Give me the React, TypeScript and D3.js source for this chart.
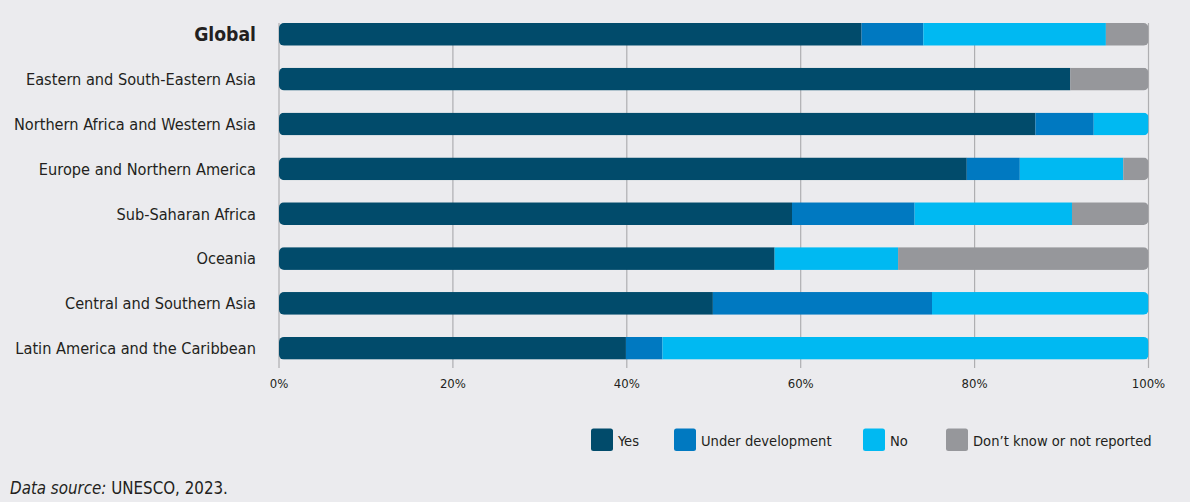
import React from "react";
import * as d3 from "d3";

const categories = [
  "Global",
  "Eastern and South-Eastern Asia",
  "Northern Africa and Western Asia",
  "Europe and Northern America",
  "Sub-Saharan Africa",
  "Oceania",
  "Central and Southern Asia",
  "Latin America and the Caribbean",
];
const seriesNames = ["Yes", "Under development", "No", "Don\u2019t know or not reported"];
const yesValues = [67.0, 91.0, 87.0, 79.1, 59.0, 57.0, 49.9, 39.9];
const underDevValues = [7.1, 0, 6.7, 6.1, 14.1, 0, 25.2, 4.2];
const noValues = [21.0, 0, 6.3, 11.9, 18.1, 14.2, 24.9, 55.9];
const dontKnowValues = [4.9, 9.0, 0, 2.9, 8.8, 28.8, 0, 0];
const tickValues = [0, 20, 40, 60, 80, 100];
const colors = ["#014b6b", "#0079c1", "#00b9f2", "#96979b"];

const FONT = "'Liberation Sans Narrow', 'DejaVu Sans Condensed', 'Roboto Condensed', sans-serif";
const W = 1190;
const H = 502;

export default function App() {
  const x = d3.scaleLinear().domain([0, 100]).range([279, 1148.5]);
  const bh = 22.7;
  const rowY = (i: number) => 34.3 + i * 44.85;
  const series = [yesValues, underDevValues, noValues, dontKnowValues];
  const rows = categories.map((c, i) => {
    let acc = 0;
    return series.map((s, k) => {
      const start = acc;
      acc += s[i];
      return { k, start, end: acc };
    });
  });
  const legendX = [591, 674, 863, 946];

  return (
    <svg
      width={W}
      height={H}
      style={{ position: "absolute", left: 0, top: 0, background: "#ebebee", fontFamily: FONT }}
    >
      <rect x={0} y={0} width={W} height={H} fill="#ebebee" />
      {/* grid */}
      {tickValues.map((t) => (
        <line
          key={t}
          x1={x(t)}
          x2={x(t)}
          y1={23}
          y2={368}
          stroke="#aeaeb1"
          strokeWidth={1.2}
        />
      ))}
      {/* bars */}
      <defs>
        {categories.map((c, i) => {
          const cy = rowY(i);
          return (
            <clipPath id={`clip${i}`} key={c}>
              <rect x={x(0)} y={cy - bh / 2} width={x(100) - x(0)} height={bh} rx={5} ry={5} />
            </clipPath>
          );
        })}
      </defs>
      {categories.map((c, i) => {
        const cy = rowY(i);
        return (
          <g key={c} clipPath={`url(#clip${i})`}>
            {rows[i]
              .filter((d) => d.end > d.start)
              .map((d) => (
                <rect
                  key={d.k}
                  x={x(d.start)}
                  y={cy - bh / 2}
                  width={x(d.end) - x(d.start)}
                  height={bh}
                  fill={colors[d.k]}
                />
              ))}
          </g>
        );
      })}
      {/* category labels */}
      {categories.map((c, i) => {
        const cy = rowY(i);
        const isGlobal = i === 0;
        return (
          <text
            key={c}
            x={256}
            y={cy}
            dy="0.36em"
            textAnchor="end"
            fontSize={isGlobal ? 19.2 : 16.2}
            fontWeight={isGlobal ? "bold" : "normal"}
            fill="#231f20"
          >
            {c}
          </text>
        );
      })}
      {/* x tick labels */}
      {tickValues.map((t) => (
        <text key={t} x={x(t)} y={388} textAnchor="middle" fontSize={13} fill="#231f20">
          {`${t}%`}
        </text>
      ))}
      {/* legend */}
      {seriesNames.map((n, k) => (
        <g key={n}>
          <rect x={legendX[k]} y={428.5} width={22} height={22.5} rx={2.5} fill={colors[k]} />
          <text x={legendX[k] + 27} y={445.5} fontSize={14.6} fill="#231f20">
            {n}
          </text>
        </g>
      ))}
      {/* source */}
      <text x={10} y={494} fontSize={16.8} fill="#231f20">
        <tspan fontStyle="italic">Data source:</tspan>
        <tspan> UNESCO, 2023.</tspan>
      </text>
    </svg>
  );
}
